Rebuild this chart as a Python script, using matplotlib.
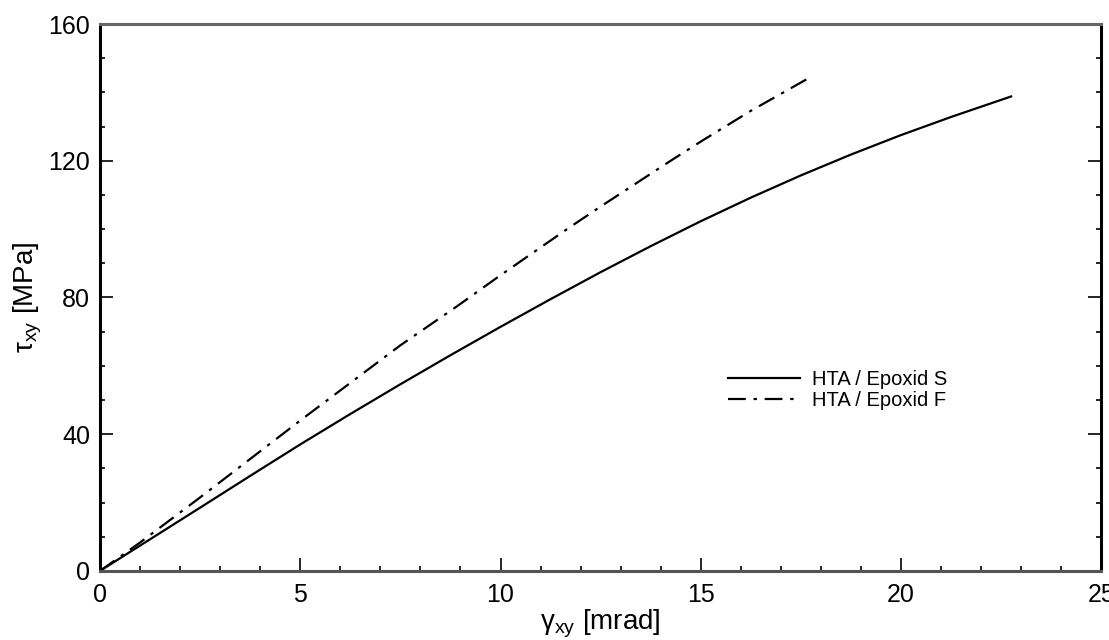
import matplotlib

matplotlib.use("Agg")
import matplotlib.pyplot as plt
from matplotlib.ticker import MultipleLocator

# values
strain_s = [0, 1.0, 2.5, 3.75, 5.0, 6.25, 7.5, 8.75, 10.0, 11.25, 12.5,
            13.75, 15.0, 16.25, 17.5, 18.75, 20.0, 21.25, 22.75]
stress_s = [0, 7.4, 18.5, 27.8, 37.0, 45.9, 54.6, 63.1, 71.4, 79.5, 87.4,
            95.0, 102.3, 109.2, 115.7, 121.8, 127.5, 132.8, 138.8]

strain_f = [0, 1.0, 2.5, 5.0, 7.5, 8.9, 10.0, 11.7, 12.5, 14.25, 15.0,
            16.25, 17.7]
stress_f = [0, 8.3, 21.5, 44.0, 66.0, 77.3, 86.5, 100.3, 106.6, 120.0, 125.6,
            134.6, 144.2]

labels = ["HTA / Epoxid S", "HTA / Epoxid F"]

plt.rcParams["font.family"] = ["Liberation Sans", "DejaVu Sans"]
plt.rcParams["mathtext.fontset"] = "custom"
plt.rcParams["mathtext.rm"] = "Liberation Sans"
plt.rcParams["mathtext.it"] = "Liberation Sans"

fig = plt.figure(figsize=(11.09, 6.40), dpi=100)
ax = fig.add_axes([0.0902, 0.108, 0.9028, 0.8545])

ax.plot(strain_s, stress_s, color="black", lw=1.6, label=labels[0])
ax.plot(strain_f, stress_f, color="black", lw=1.6,
        linestyle=(0, (8, 3.5, 1.5, 3.5)), label=labels[1])

ax.set_xlim(0, 25)
ax.set_ylim(0, 160)
ax.xaxis.set_major_locator(MultipleLocator(5))
ax.xaxis.set_minor_locator(MultipleLocator(1))
ax.yaxis.set_major_locator(MultipleLocator(40))
ax.yaxis.set_minor_locator(MultipleLocator(10))

ax.tick_params(which="both", direction="in", left=True, right=True,
               bottom=True, top=False, color="black", labelsize=18, width=1.2)
ax.tick_params(which="major", length=9.5)
ax.tick_params(axis="x", which="major", pad=8.5)
ax.tick_params(axis="y", which="major", pad=7)
ax.tick_params(which="minor", length=3.6)

for side in ["left", "bottom", "right", "top"]:
    ax.spines[side].set_linewidth(2.2)
ax.spines["bottom"].set_color("#555555")
ax.spines["top"].set_color("#666666")

ax.set_xlabel(r"$\mathregular{\gamma_{xy}}$ [mrad]", fontsize=20, labelpad=1)
ax.set_ylabel(r"$\mathregular{\tau_{xy}}$ [MPa]", fontsize=20, labelpad=3)

ax.legend(loc="upper left", bbox_to_anchor=(0.619, 0.382), frameon=False,
          fontsize=14.5, handlelength=3.6, handletextpad=0.6,
          labelspacing=0.08, borderaxespad=0)

fig.savefig("out.png", dpi=100)
